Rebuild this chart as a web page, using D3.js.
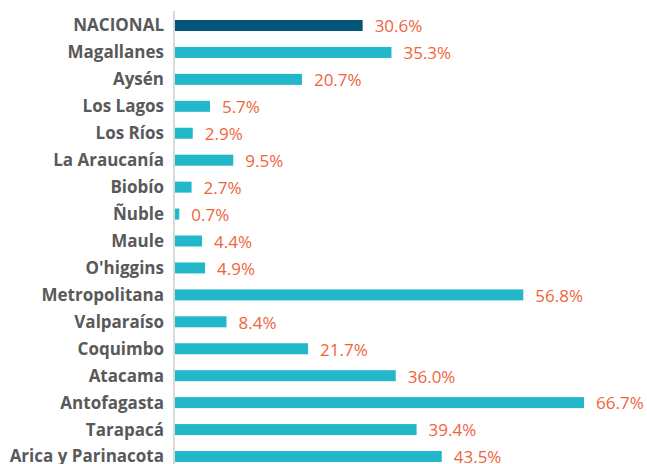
<!DOCTYPE html>
<html>
<head>
<meta charset="utf-8">
<script src="https://cdn.jsdelivr.net/npm/d3@7"></script>
<style>
  body { margin: 0; background: #fff; }
  svg { display: block; }
</style>
</head>
<body>
<svg id="chart"></svg>
<script>
var regions = ["NACIONAL", "Magallanes", "Aysén", "Los Lagos", "Los Ríos", "La Araucanía",
  "Biobío", "Ñuble", "Maule", "O'higgins", "Metropolitana", "Valparaíso", "Coquimbo",
  "Atacama", "Antofagasta", "Tarapacá", "Arica y Parinacota"];
var values = [30.6, 35.3, 20.7, 5.7, 2.9, 9.5, 2.7, 0.7, 4.4, 4.9, 56.8, 8.4, 21.7, 36.0, 66.7, 39.4, 43.5];

var width = 647;
var height = 464;

var svg = d3.select("#chart")
    .attr("width", width)
    .attr("height", height)
    .attr("font-family", "'Open Sans', sans-serif");

var x = d3.scaleLinear()
    .domain([0, 66.7])
    .range([175, 584]);

var y = d3.scalePoint()
    .domain(regions)
    .range([25.5, 456.5]);

var barH = 11;

// baseline
svg.append("line")
    .attr("x1", 174).attr("x2", 174)
    .attr("y1", 11).attr("y2", height)
    .attr("stroke", "#d9d9d9")
    .attr("stroke-width", 2);

var row = svg.append("g")
  .selectAll("g")
  .data(regions)
  .join("g")
    .attr("transform", d => `translate(0,${y(d)})`);

row.append("rect")
    .attr("x", x(0))
    .attr("y", -barH / 2)
    .attr("height", barH)
    .attr("width", (d, i) => x(values[i]) - x(0))
    .attr("fill", (d, i) => i === 0 ? "#04557a" : "#22b8ca");

row.append("text")
    .attr("x", 164)
    .attr("dy", "0.35em")
    .attr("text-anchor", "end")
    .attr("font-size", 17)
    .attr("font-weight", "bold")
    .attr("fill", "#595959")
    .text(d => d);

row.append("text")
    .attr("x", (d, i) => x(values[i]) + 12)
    .attr("dy", "0.4em")
    .attr("font-size", 17)
    .attr("fill", "#f0643c")
    .text((d, i) => values[i].toFixed(1) + "%");
</script>
</body>
</html>
